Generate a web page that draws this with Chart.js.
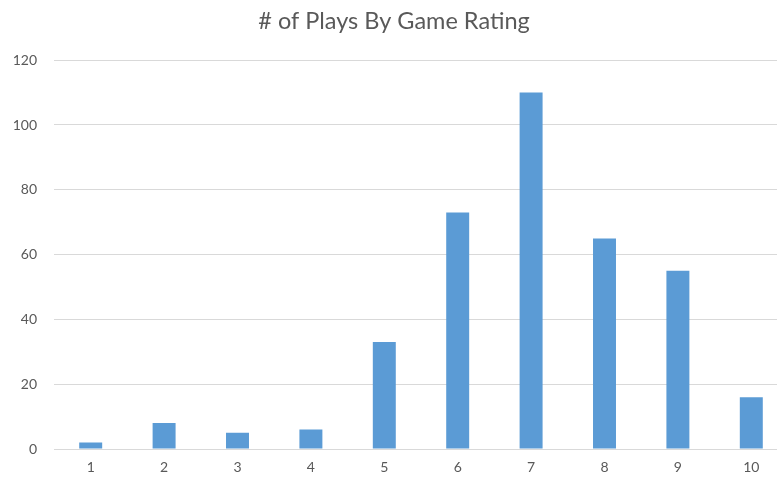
<!DOCTYPE html>
<html>
<head>
<meta charset="utf-8">
<script src="https://cdn.jsdelivr.net/npm/chart.js@4"></script>
<style>
    html, body { margin: 0; padding: 0; overflow: hidden; background: #fff; }
    #wrap { width: 788px; height: 480px; }
</style>
</head>
<body>
<div id="wrap"><canvas id="playsChart" width="788" height="480"></canvas></div>
<script>
// Chart data
const ratings = ['1', '2', '3', '4', '5', '6', '7', '8', '9', '10'];
const plays = [2, 8, 5, 6, 33, 73, 110, 65, 55, 16];
const yTicks = [0, 20, 40, 60, 80, 100, 120];

const textColor = '#595959';
const gridColor = '#d9d9d9';
const fontFamily = 'Lato, "Open Sans", sans-serif';

const ctx = document.getElementById('playsChart').getContext('2d');

new Chart(ctx, {
    type: 'bar',
    data: {
        labels: ratings,
        datasets: [{
            label: '# of Plays',
            data: plays,
            backgroundColor: '#5b9bd5',
            borderWidth: 0,
            barPercentage: 1,
            categoryPercentage: 0.313
        }]
    },
    options: {
        responsive: false,
        animation: false,
        layout: { padding: 0 },
        plugins: {
            legend: { display: false },
            tooltip: { enabled: false },
            title: {
                display: true,
                text: '# of Plays By Game Rating',
                color: textColor,
                font: { family: fontFamily, size: 23.5, weight: 'normal' },
                padding: { top: 7, bottom: 25 }
            }
        },
        scales: {
            x: {
                grid: { display: false, drawTicks: false },
                border: { display: true, color: gridColor, width: 1 },
                ticks: {
                    color: textColor,
                    font: { family: fontFamily, size: 14 },
                    padding: 10
                },
                afterFit: function (scale) { scale.height = 31; }
            },
            y: {
                min: 0,
                max: 120,
                afterBuildTicks: function (scale) {
                    scale.ticks = yTicks.map(v => ({ value: v }));
                },
                grid: { color: gridColor, drawTicks: false },
                border: { display: false },
                ticks: {
                    color: textColor,
                    font: { family: fontFamily, size: 14 },
                    padding: 17
                },
                afterFit: function (scale) { scale.width = 54; }
            }
        }
    }
});
</script>
</body>
</html>
